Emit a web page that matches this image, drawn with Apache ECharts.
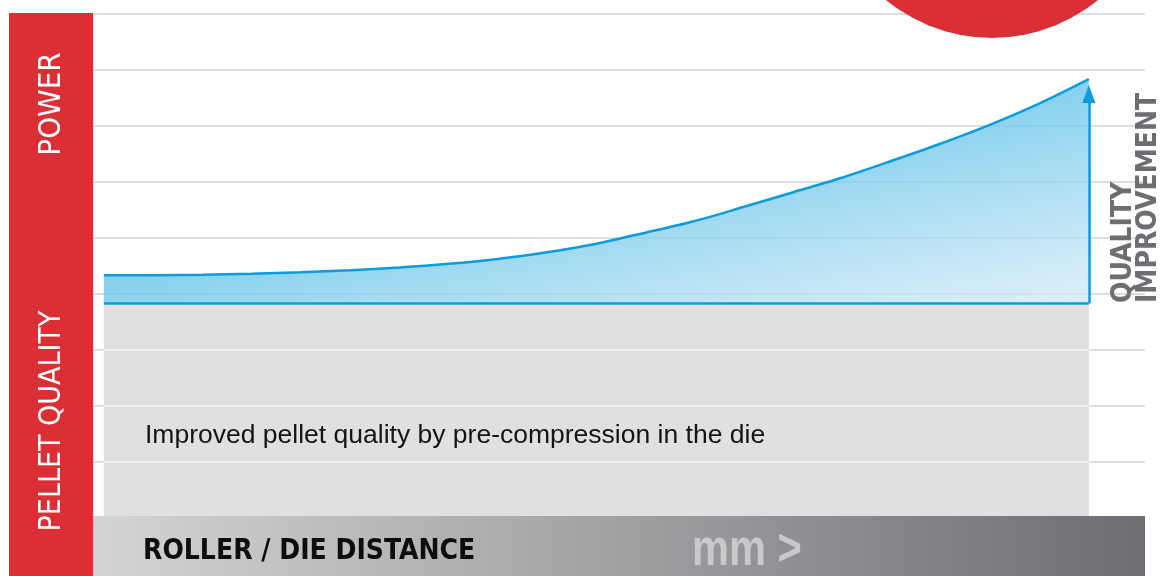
<!DOCTYPE html>
<html>
<head>
<meta charset="utf-8">
<script src="https://cdn.jsdelivr.net/npm/echarts@6/dist/echarts.min.js"></script>
<style>html,body{margin:0;padding:0;background:#fff}#c{width:1162px;height:576px}</style>
</head>
<body>
<div id="c"></div>
<script>
// Roller / die distance (relative units, 0..100)
const distance = [0, 5, 10, 15, 20, 25, 30, 35, 40, 45, 50, 55, 60, 65, 70, 75, 80, 85, 90, 95, 100];
// Power / pellet quality curve (grid units)
const quality = [4.334, 4.336, 4.345, 4.363, 4.389, 4.425, 4.473, 4.539, 4.627, 4.745, 4.898, 5.095, 5.304, 5.557, 5.818, 6.080, 6.379, 6.688, 7.025, 7.405, 7.839];
const baseline = 3.83;          // base quality level
const arrowTop = 7.57;          // quality-improvement arrow head (centre)
const grayBand = [0, 3.83];     // pre-compression zone
const whiteLines = [1, 2, 3];   // grid lines over grey band
const yTicks = [0, 9, 1];       // min, max, interval
const labels = {
  power: 'POWER',
  pellet: 'PELLET QUALITY',
  q1: 'QUALITY',
  q2: 'IMPROVEMENT',
  note: 'Improved pellet quality by pre-compression in the die',
  xName: 'ROLLER / DIE DISTANCE',
  unit: 'mm >'
};

const chart = echarts.init(document.getElementById('c'), null, {renderer: 'canvas'});
const curve = distance.map((d, i) => [d, quality[i]]);
const xStart = distance[0], xEnd = distance[distance.length - 1];
const condensed = '"DejaVu Sans Condensed", "DejaVu Sans", sans-serif';

chart.setOption({
  animation: false,
  backgroundColor: '#ffffff',
  grid: {left: 93, right: 17, top: 14, bottom: 58, containLabel: false},
  xAxis: {
    type: 'value', min: -1.1, max: 105.7,
    axisLine: {show: false}, axisTick: {show: false}, axisLabel: {show: false}, splitLine: {show: false}
  },
  yAxis: {
    type: 'value', min: yTicks[0], max: yTicks[1], interval: yTicks[2],
    axisLine: {show: false}, axisTick: {show: false}, axisLabel: {show: false},
    splitLine: {show: true, lineStyle: {color: '#d2d2d2', width: 1.5}}
  },
  series: [
    {
      type: 'line', name: 'band', data: [], z: 1, silent: true,
      markArea: {
        silent: true,
        itemStyle: {color: '#e0e0e0'},
        data: [[{coord: [xStart, grayBand[0]]}, {coord: [xEnd, grayBand[1]]}]]
      }
    },
    {
      type: 'line', name: 'bandLines', data: [], z: 2, silent: true,
      markLine: {
        silent: true, symbol: 'none', label: {show: false},
        lineStyle: {color: '#f4f4f4', width: 1.5, type: 'solid'},
        data: whiteLines.map(v => [{coord: [xStart, v]}, {coord: [xEnd, v]}])
      }
    },
    {
      type: 'line', name: 'quality', data: curve, z: 4,
      smooth: 0.3, showSymbol: false, symbol: 'none',
      lineStyle: {color: '#0d9bdb', width: 2.5},
      areaStyle: {
        origin: baseline,
        opacity: 1,
        color: new echarts.graphic.LinearGradient(104, 290, 144, 486, [
          {offset: 0, color: 'rgba(110,200,235,0.82)'},
          {offset: 1, color: 'rgba(205,232,247,0.72)'}
        ], true)
      },
      markLine: {
        silent: true, label: {show: false},
        symbol: ['none', 'triangle'],
        symbolSize: [13, 18],
        lineStyle: {color: '#0d9bdb', width: 2.5, type: 'solid'},
        data: [
          [{coord: [xStart, baseline], symbol: 'none'}, {coord: [xEnd, baseline], symbol: 'none'}],
          [{coord: [xEnd, baseline], symbol: 'none'}, {coord: [xEnd, arrowTop], symbol: 'triangle'}]
        ]
      }
    }
  ],
  graphic: [
    {type: 'circle', z: 100, shape: {cx: 992, cy: -129, r: 167}, style: {fill: '#db2f36'}},
    {type: 'rect', z: 100, shape: {x: 9, y: 13, width: 84, height: 563}, style: {fill: '#db2f36'}},
    {type: 'rect', z: 100, shape: {x: 93, y: 516, width: 1052, height: 60},
      style: {fill: new echarts.graphic.LinearGradient(0, 0, 1, 0, [
        {offset: 0, color: '#d3d4d6'},
        {offset: 0.5, color: '#a0a1a3'},
        {offset: 1, color: '#6d6e71'}
      ])}},
    {type: 'text', z: 101, x: 52, y: 104, rotation: Math.PI / 2,
      style: {text: labels.power, fill: '#ffffff', font: '31px ' + condensed, align: 'center', verticalAlign: 'middle'}},
    {type: 'text', z: 101, x: 52, y: 421, rotation: Math.PI / 2,
      style: {text: labels.pellet, fill: '#ffffff', font: '30px ' + condensed, align: 'center', verticalAlign: 'middle'}},
    {type: 'text', z: 101, x: 1124, y: 303, rotation: Math.PI / 2,
      style: {text: labels.q1, fill: '#6d6e71', font: 'bold 28px ' + condensed, align: 'left', verticalAlign: 'middle'}},
    {type: 'text', z: 101, x: 1149, y: 303, rotation: Math.PI / 2,
      style: {text: labels.q2, fill: '#6d6e71', font: 'bold 28px ' + condensed, align: 'left', verticalAlign: 'middle'}},
    {type: 'text', z: 101, x: 145, y: 436,
      style: {text: labels.note, fill: '#141414', font: '26.5px "Liberation Sans", Arial, sans-serif', align: 'left', verticalAlign: 'middle'}},
    {type: 'text', z: 101, x: 143, y: 552,
      style: {text: labels.xName, fill: '#0d0d0d', font: 'bold 28px ' + condensed, align: 'left', verticalAlign: 'middle'}},
    {type: 'text', z: 101, x: 692, y: 551, scaleX: 0.8,
      style: {text: labels.unit, fill: '#c8c9cb', font: 'bold 52px "Liberation Sans", Arial, sans-serif', align: 'left', verticalAlign: 'middle'}}
  ]
});
</script>
</body>
</html>
